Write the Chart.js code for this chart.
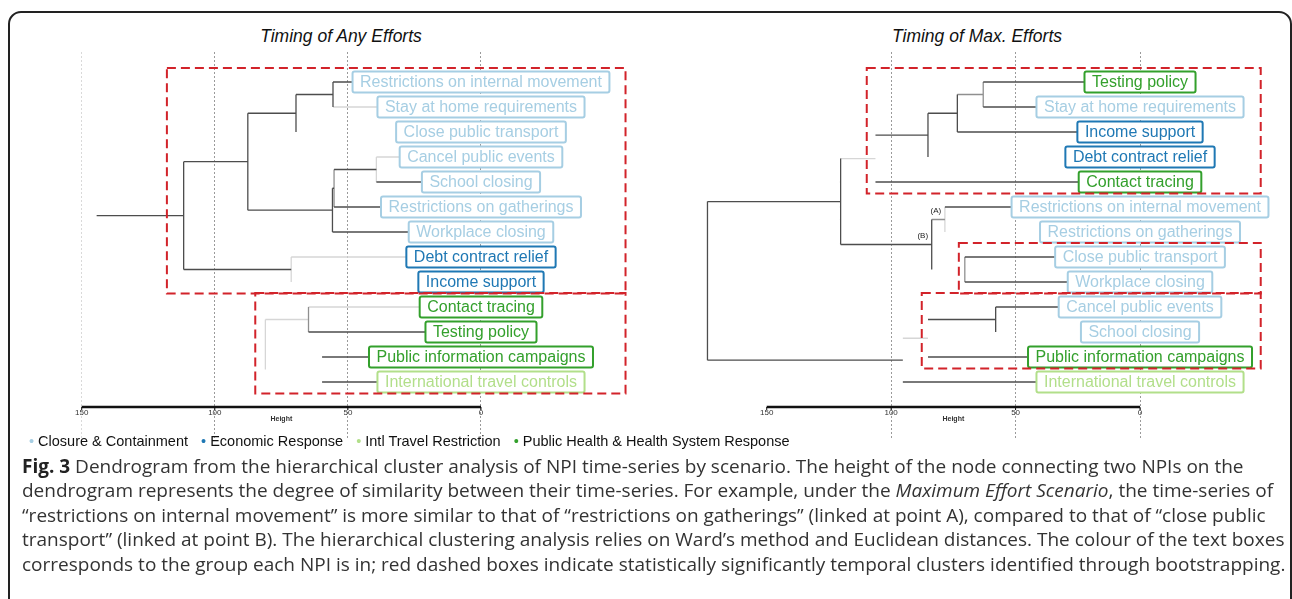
<!DOCTYPE html>
<html>
<head>
<meta charset="UTF-8">
<title>Fig. 3 Dendrogram</title>
<script src="https://cdn.jsdelivr.net/npm/chart.js@4.4.1/dist/chart.umd.min.js"></script>
<style>
  body {
    margin: 0;
    width: 1292px;
    height: 599px;
    overflow: hidden;
    position: relative;
    background: #fff;
    font-family: "Liberation Sans", Arial, sans-serif;
  }
  .frame {
    position: absolute;
    left: 8px;
    top: 11px;
    width: 1280px;
    height: 700px;
    border: 2px solid #222;
    border-radius: 13px;
  }
  canvas { position: absolute; top: 0; }
  #left { left: 0; }
  #right { left: 660px; }
  .title {
    position: absolute;
    top: 26px;
    font-size: 17.5px;
    font-style: italic;
    color: #111;
    white-space: nowrap;
    transform: translateX(-50%);
  }
  .legend {
    position: absolute;
    left: 29px;
    top: 433px;
    font-size: 14.5px;
    line-height: 17px;
    color: #111;
    white-space: nowrap;
  }
  .legend span { margin-left: 9px; }
  .legend span:first-child { margin-left: 0; }
  .caption {
    position: absolute;
    left: 22px;
    top: 454px;
    font-family: "Open Sans", sans-serif;
    font-size: 19px;
    line-height: 24.4px;
    color: #333;
    white-space: nowrap;
  }
  .caption b { color: #222; }
</style>
</head>
<body>
<div class="frame"></div>
<div class="title" style="left:341px">Timing of Any Efforts</div>
<div class="title" style="left:977px">Timing of Max. Efforts</div>
<canvas id="left" width="660" height="460"></canvas>
<canvas id="right" width="632" height="460"></canvas>
<div class="legend" id="legend"></div>
<div class="caption">
<b>Fig. 3</b> Dendrogram from the hierarchical cluster analysis of NPI time-series by scenario. The height of the node connecting two NPIs on the<br>
dendrogram represents the degree of similarity between their time-series. For example, under the <i>Maximum Effort Scenario</i>, the time-series of<br>
“restrictions on internal movement” is more similar to that of “restrictions on gatherings” (linked at point A), compared to that of “close public<br>
transport” (linked at point B). The hierarchical clustering analysis relies on Ward’s method and Euclidean distances. The colour of the text boxes<br>
corresponds to the group each NPI is in; red dashed boxes indicate statistically significantly temporal clusters identified through bootstrapping.
</div>
<script>
// groups
const groupNames = ['Closure & Containment', 'Economic Response', 'Intl Travel Restriction', 'Public Health & Health System Response'];
const groupKeys = ['cc', 'econ', 'travel', 'ph'];
const groupColors = {cc: '#a6cee3', econ: '#1f78b4', travel: '#b2df8a', ph: '#33a02c'};

// axis ticks (Height)
const heightTicks = [150, 100, 50, 0];

// left: timing of any efforts
const leftLeaves = ['Restrictions on internal movement', 'Stay at home requirements', 'Close public transport',
  'Cancel public events', 'School closing', 'Restrictions on gatherings', 'Workplace closing',
  'Debt contract relief', 'Income support', 'Contact tracing', 'Testing policy',
  'Public information campaigns', 'International travel controls'];
const leftGroups = ['cc', 'cc', 'cc', 'cc', 'cc', 'cc', 'cc', 'econ', 'econ', 'ph', 'ph', 'ph', 'travel'];
// hclust style merges: negative = leaf, positive = earlier merge, then height
const leftMerges = [
  [-1, -2, 55.6], [1, -3, 69.5], [-4, -5, 39.3], [3, -6, 55.2], [4, -7, 55.8], [2, 5, 87.6],
  [-8, -9, 71.3], [6, 7, 111.7], [-10, -11, 64.8], [-12, -13, 59.7], [9, 10, 81.0], [8, 11, 144.4]
];
// shade of [vertical, branch a, branch b]; d dark, g grey, l light, null hidden
const leftShades = [
  ['d', 'd', 'l'], ['d', 'd', null], ['l', 'l', 'd'], ['g', 'd', 'd'], ['d', 'd', 'd'], ['d', 'd', 'd'],
  ['l', 'l', null], ['d', 'd', 'd'], ['g', 'l', 'd'], [null, 'd', 'd'], ['l', 'l', null], [null, 'd', null]
];
// significant clusters: first leaf, last leaf, height of left edge
const leftClusters = [[1, 9, 118], [10, 13, 84.8]];

// right: timing of max. efforts
const rightLeaves = ['Testing policy', 'Stay at home requirements', 'Income support', 'Debt contract relief',
  'Contact tracing', 'Restrictions on internal movement', 'Restrictions on gatherings',
  'Close public transport', 'Workplace closing', 'Cancel public events', 'School closing',
  'Public information campaigns', 'International travel controls'];
const rightGroups = ['ph', 'cc', 'econ', 'econ', 'ph', 'cc', 'cc', 'cc', 'cc', 'cc', 'cc', 'ph', 'travel'];
const rightMerges = [
  [-1, -2, 63.0], [1, -3, 73.4], [2, -4, 85.2], [3, -5, 106.3], [-6, -7, 78.4], [-8, -9, 70.4],
  [5, 6, 83.7], [4, 7, 120.3], [-10, -11, 58.0], [9, -12, 85.2], [10, -13, 95.3], [8, 11, 173.8]
];
const rightShades = [
  ['g', 'd', 'd'], ['d', 'g', 'd'], ['d', 'd', null], [null, 'd', 'd'], ['l', 'd', null], ['g', 'd', 'd'],
  ['d', 'g', null], ['d', 'l', 'd'], ['d', 'd', null], [null, 'd', 'd'], [null, 'l', 'd'], ['d', 'd', 'd']
];
const rightClusters = [[1, 5, 109.8], [8, 9, 72.8], [10, 12, 87.7]];
// node labels (merge number, text)
const rightNotes = [[5, '(A)'], [7, '(B)']];

const shadeColors = {d: '#4d4d4d', g: '#8f8f8f', l: '#d6d6d6'};

function buildTree(merges, shades) {
  const nodeH = [], nodeY = [];
  const segs = {d: [], g: [], l: []};
  const pos = r => r < 0 ? {h: 0, y: -r - 1} : {h: nodeH[r - 1], y: nodeY[r - 1]};
  merges.forEach(([a, b, h], i) => {
    const A = pos(a), B = pos(b);
    const [sv, sa, sb] = shades[i];
    const add = (s, x1, y1, x2, y2) => {
      if (s) segs[s].push({x: x1, y: y1}, {x: x2, y: y2}, {x: null, y: null});
    };
    add(sv, h, A.y, h, B.y);
    add(sa, A.h, A.y, h, A.y);
    add(sb, B.h, B.y, h, B.y);
    nodeH.push(h);
    nodeY.push((A.y + B.y) / 2);
  });
  return {segs, nodeH, nodeY};
}

function drawDendro(id, p) {
  const tree = buildTree(p.merges, p.shades);
  const datasets = ['d', 'g', 'l'].map(k => ({
    data: tree.segs[k],
    borderColor: shadeColors[k],
    borderWidth: 1.3,
    pointRadius: 0,
    spanGaps: false,
    tension: 0
  }));

  const dendroPlugin = {
    id: 'dendro',
    afterDatasetsDraw(chart) {
      const {ctx, scales: {x, y}} = chart;
      ctx.save();

      // axis line with ticks and labels
      const ay = y.getPixelForValue(13);
      ctx.strokeStyle = '#111';
      ctx.lineWidth = 2.5;
      ctx.beginPath();
      ctx.moveTo(x.getPixelForValue(150), ay);
      ctx.lineTo(x.getPixelForValue(0), ay);
      ctx.stroke();
      ctx.lineWidth = 1;
      ctx.fillStyle = '#333';
      ctx.font = '8px "Liberation Sans", Arial';
      ctx.textAlign = 'center';
      ctx.textBaseline = 'middle';
      heightTicks.forEach(v => {
        const px = x.getPixelForValue(v);
        ctx.beginPath();
        ctx.moveTo(px, ay);
        ctx.lineTo(px, ay + 3);
        ctx.stroke();
        ctx.fillText(String(v), px, ay + 6);
      });
      ctx.font = 'bold 7px "Liberation Sans", Arial';
      ctx.fillText('Height', x.getPixelForValue(75), ay + 12);

      // node notes
      ctx.font = '8px "Liberation Sans", Arial';
      ctx.fillStyle = '#222';
      (p.notes || []).forEach(([m, txt]) => {
        ctx.fillText(txt, x.getPixelForValue(tree.nodeH[m - 1]) - 9, y.getPixelForValue(tree.nodeY[m - 1]) - 9);
      });

      // leaf label boxes
      ctx.font = '16px "Liberation Sans", Arial';
      const cx = x.getPixelForValue(0);
      p.leaves.forEach((name, i) => {
        const col = groupColors[p.groups[i]];
        const w = ctx.measureText(name).width + 15;
        const cy = y.getPixelForValue(i);
        ctx.fillStyle = '#fff';
        ctx.strokeStyle = col;
        ctx.lineWidth = 2;
        ctx.beginPath();
        ctx.roundRect(cx - w / 2, cy - 10.5, w, 21, 2);
        ctx.fill();
        ctx.stroke();
        ctx.fillStyle = col;
        ctx.fillText(name, cx, cy + 1);
      });

      // significant clusters
      ctx.strokeStyle = '#d2232a';
      ctx.lineWidth = 2;
      ctx.setLineDash([9, 5]);
      p.clusters.forEach(([from, to, h]) => {
        const x1 = x.getPixelForValue(h), x2 = x.getPixelForValue(p.boxEdge);
        const y1 = y.getPixelForValue(from - 1 - 0.56), y2 = y.getPixelForValue(to - 1 + 0.46);
        ctx.strokeRect(x1, y1, x2 - x1, y2 - y1);
      });
      ctx.restore();
    }
  };

  new Chart(document.getElementById(id), {
    type: 'line',
    data: {datasets},
    options: {
      responsive: false,
      animation: false,
      layout: {padding: p.padding},
      plugins: {legend: {display: false}, tooltip: {enabled: false}},
      scales: {
        x: {
          type: 'linear', min: p.min, max: p.max, reverse: true,
          afterBuildTicks: s => { s.ticks = p.grid.map(v => ({value: v})); },
          ticks: {display: false},
          border: {display: false, dash: [2, 2]},
          grid: {drawTicks: false, color: c => c.tick && c.tick.value === 150 ? '#d9d9d9' : '#9a9a9a'}
        },
        y: {type: 'linear', min: -1.2, max: 14.24, reverse: true, display: false}
      }
    },
    plugins: [dendroPlugin]
  });
}

drawDendro('left', {
  leaves: leftLeaves, groups: leftGroups, merges: leftMerges, shades: leftShades,
  clusters: leftClusters, boxEdge: -54.3, min: -60, max: 160, grid: [150, 100, 50, 0],
  padding: {left: 55.1, right: 19.3, top: 52, bottom: 22}
});
drawDendro('right', {
  leaves: rightLeaves, groups: rightGroups, merges: rightMerges, shades: rightShades,
  clusters: rightClusters, notes: rightNotes, boxEdge: -48.5, min: -55, max: 185, grid: [100, 50, 0],
  padding: {left: 19.6, right: 15.1, top: 52, bottom: 22}
});

// legend
document.getElementById('legend').innerHTML = groupKeys.map((k, i) =>
  '<span style="color:' + groupColors[k] + '">&bull;</span> ' + groupNames[i].replace('&', '&amp;')
).join(' ');
</script>
</body>
</html>
